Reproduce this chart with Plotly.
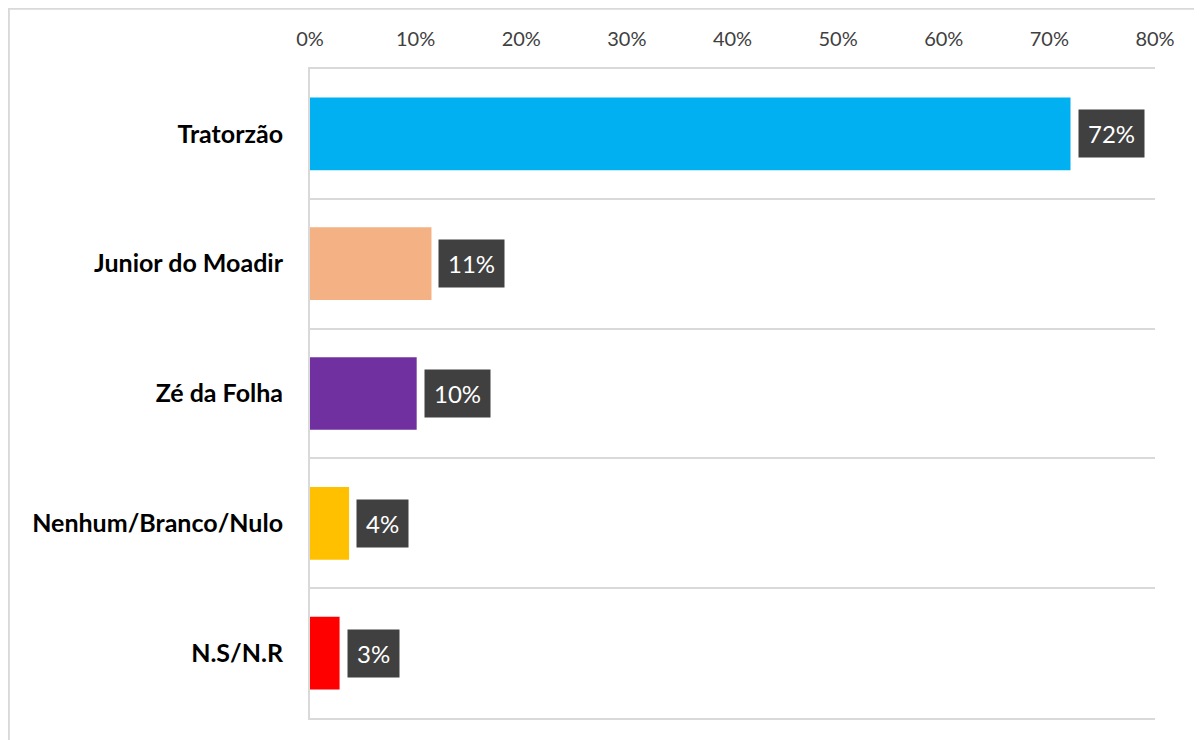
import plotly.graph_objects as go

categories = ["Tratorzão", "Junior do Moadir", "Zé da Folha", "Nenhum/Branco/Nulo", "N.S/N.R"]
values = [72.0, 11.5, 10.1, 3.7, 2.8]
labels = ["72%", "11%", "10%", "4%", "3%"]
colors = ["#00B0F0", "#F4B183", "#7030A0", "#FFC000", "#FF0000"]
tick_vals = [0, 10, 20, 30, 40, 50, 60, 70, 80]
tick_text = ["0%", "10%", "20%", "30%", "40%", "50%", "60%", "70%", "80%"]

FONT = "Lato, Open Sans, sans-serif"

ML, MR, MT, MB = 302, 55, 61, 30
W, H = 1202, 740
PW, PH = W - ML - MR, H - MT - MB

fig = go.Figure()
fig.add_trace(go.Bar(
    x=values, y=categories, orientation="h",
    marker=dict(color=colors, line=dict(width=0)),
    hoverinfo="skip",
))

for c, v, t in zip(categories, values, labels):
    fig.add_annotation(
        x=v, y=c, xref="x", yref="y", text=t, showarrow=False,
        xanchor="left", yanchor="middle", xshift=7,
        bgcolor="#404040", borderpad=9,
        font=dict(family=FONT, size=24, color="#FFFFFF"),
    )

# chart border (figure edge)
fig.add_shape(type="rect", xref="paper", yref="paper",
              x0=-ML / PW + 0.001, x1=(W + 20 - ML) / PW,
              y0=-(MB + 20) / PH, y1=1 + MT / PH - 0.001,
              line=dict(color="#D9D9D9", width=2), layer="below")

fig.update_layout(
    width=W, height=H,
    margin=dict(l=ML, r=MR, t=MT, b=MB),
    paper_bgcolor="white", plot_bgcolor="white",
    bargap=0.44, showlegend=False,
    font=dict(family=FONT),
    xaxis=dict(
        side="top", range=[0, 80], tickvals=tick_vals, ticktext=tick_text,
        showgrid=False, zeroline=False,
        showline=True, mirror=True, linecolor="#D9D9D9", linewidth=2,
        ticks="", ticklabelstandoff=13,
        tickfont=dict(family=FONT, size=20, color="#404040"),
        fixedrange=True,
    ),
    yaxis=dict(
        categoryorder="array", categoryarray=categories, autorange="reversed",
        tickson="boundaries", showgrid=True, gridcolor="#D9D9D9", gridwidth=2,
        showline=True, linecolor="#D9D9D9", linewidth=2, zeroline=False,
        ticks="", ticklabelstandoff=20,
        tickfont=dict(family=FONT, size=25, color="#000000", weight="bold"),
        fixedrange=True,
    ),
)

fig.write_html("out.html")
